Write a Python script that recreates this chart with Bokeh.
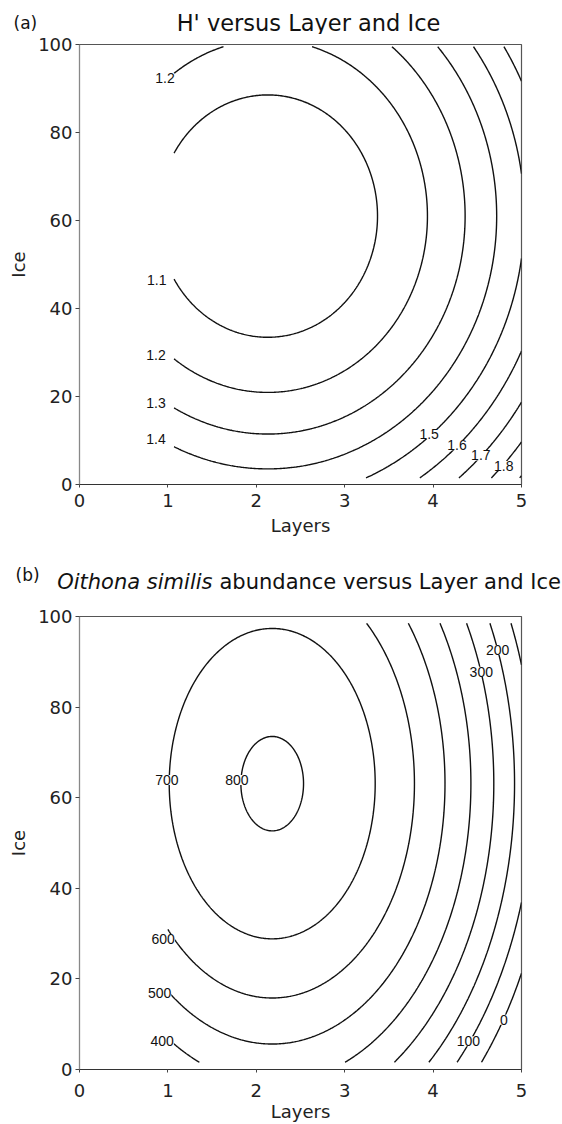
import numpy as np
from bokeh.plotting import figure
from bokeh.models import Range1d, FixedTicker, Label, LabelSet, ColumnDataSource
from bokeh.core.properties import value
from bokeh.layouts import column
from bokeh.embed import file_html
from bokeh.resources import INLINE

# ---------------- data ----------------
layer_ticks = [0, 1, 2, 3, 4, 5]
ice_ticks = [0, 20, 40, 60, 80, 100]

# (a) H' response surface (quadratic)
h_levels = [1.1, 1.2, 1.3, 1.4, 1.5, 1.6, 1.7, 1.8, 1.9]
h_layer_opt = 2.13
h_ice_opt = 61.0
h_min = 1.0105
h_curv_layer = 0.0581
h_curv_ice = 0.000118
h_layer_span = [1.07, 5.0]
h_ice_span = [1.5, 99.5]
h_label_text = ["1.2", "1.1", "1.2", "1.3", "1.4", "1.5", "1.6", "1.7", "1.8"]
h_label_layer = [0.967, 0.874, 0.866, 0.866, 0.866, 3.955, 4.27, 4.54, 4.80]
h_label_ice = [92.3, 46.5, 29.4, 18.5, 10.4, 11.5, 8.9, 6.6, 4.2]

# (b) Oithona similis abundance response surface
o_levels = [0, 100, 200, 300, 400, 500, 600, 700, 800]
o_layer_opt = 2.18
o_ice_opt = 63.1
o_max = 810.2
o_curv_layer = 81.2
o_curv_ice = 0.0939
o_layer_span = [1.0, 5.0]
o_ice_span = [1.6, 98.5]
o_domain_cut = [1.12, 90.0]   # no data in the upper-left corner (layer < 1.12, ice > 90)
o_label_text = ["700", "800", "300", "200", "600", "500", "400", "100", "0"]
o_label_layer = [0.988, 1.78, 4.545, 4.73, 0.947, 0.906, 0.935, 4.40, 4.80]
o_label_ice = [63.9, 63.9, 87.8, 92.6, 28.8, 16.9, 6.25, 6.25, 11.0]

FONT = "DejaVu Sans"
LBLFONT = "Liberation Sans"
W = 562


def surface(span_x, span_y, fn):
    xs = np.linspace(span_x[0], span_x[1], 300)
    ys = np.linspace(span_y[0], span_y[1], 300)
    X, Y = np.meshgrid(xs, ys)
    return xs, ys, X, Y, fn(X, Y)


def no_align(p):
    if "frame_align" in p.properties():
        p.frame_align = False


def header(height):
    h = figure(width=W, height=height, x_range=Range1d(0, W), y_range=Range1d(0, height),
               output_backend="svg", toolbar_location=None,
               x_axis_location=None, y_axis_location=None,
               min_border=0, min_border_left=0, min_border_right=0,
               min_border_top=0, min_border_bottom=0)
    h.grid.visible = False
    h.outline_line_color = None
    h.background_fill_color = "white"
    h.border_fill_color = "white"
    no_align(h)
    return h


def make_fig(height, bottom, tick_standoff, label_standoff):
    p = figure(width=W, height=height, x_range=Range1d(0, 5), y_range=Range1d(0, 100),
               output_backend="svg", toolbar_location=None,
               min_border_left=79, min_border_right=41,
               min_border_top=10, min_border_bottom=bottom)
    no_align(p)
    p.background_fill_color = "white"
    p.border_fill_color = "white"
    p.outline_line_color = "#555555"
    p.outline_line_width = 1.2
    p.xgrid.visible = False
    p.ygrid.visible = False
    p.xaxis.ticker = FixedTicker(ticks=layer_ticks)
    p.yaxis.ticker = FixedTicker(ticks=ice_ticks)
    p.xaxis.axis_label = "Layers"
    p.yaxis.axis_label = "Ice"
    for ax in (p.xaxis[0], p.yaxis[0]):
        ax.axis_label_text_font = FONT
        ax.axis_label_text_font_size = "18px"
        ax.axis_label_text_font_style = "normal"
        ax.axis_label_text_color = "#222222"
        ax.major_label_text_font = FONT
        ax.major_label_text_font_size = "18px"
        ax.major_label_text_color = "#222222"
        ax.minor_tick_line_color = None
        ax.major_tick_in = 0
        ax.major_tick_line_color = "#444444"
    p.xaxis.axis_line_color = "#333333"
    p.yaxis.axis_line_color = "#888888"
    p.xaxis.major_tick_out = 3
    p.xaxis.major_label_standoff = tick_standoff
    p.xaxis.axis_label_standoff = label_standoff
    p.yaxis.major_tick_out = 4
    p.yaxis.major_label_standoff = 3
    p.yaxis.axis_label_standoff = 6
    return p


def contour_labels(p, xs, ys, ts):
    p.add_layout(LabelSet(x="x", y="y", text="t",
                          source=ColumnDataSource(dict(x=xs, y=ys, t=ts)),
                          text_align="center", text_baseline="middle",
                          text_font=value(LBLFONT), text_font_size=value("14px"),
                          text_color="#111111", background_fill_color="white"))


# ---------- panel (a) ----------
ha = header(34)
ha.add_layout(Label(x=13, y=12, text="(a)", text_font=FONT, text_font_size="17px",
                    text_baseline="alphabetic", text_color="#111111"))
ha.add_layout(Label(x=308, y=12, text="H' versus Layer and Ice", text_font=FONT,
                    text_font_size="22.5px", text_align="center", text_baseline="alphabetic",
                    text_color="#111111"))

pa = make_fig(514, 64, 6, 5)
xa, ya, Xa, Ya, za = surface(h_layer_span, h_ice_span,
                             lambda X, Y: h_min + h_curv_layer * (X - h_layer_opt) ** 2
                             + h_curv_ice * (Y - h_ice_opt) ** 2)
pa.contour(xa, ya, za, h_levels, line_color="#111111", line_width=1.4)
contour_labels(pa, h_label_layer, h_label_ice, h_label_text)

# ---------- panel (b) ----------
hb = header(58)
hb.add_layout(Label(x=15, y=32, text="(b)", text_font=FONT, text_font_size="17px",
                    text_baseline="alphabetic", text_color="#111111"))
hb.add_layout(Label(x=212, y=25, text="Oithona similis", text_font=FONT,
                    text_font_size="21px", text_font_style="italic", text_align="right",
                    text_baseline="alphabetic", text_color="#111111"))
hb.add_layout(Label(x=219, y=25, text="abundance versus Layer and Ice", text_font=FONT,
                    text_font_size="21px", text_align="left", text_baseline="alphabetic",
                    text_color="#111111"))

pb = make_fig(518, 55, 11, 1)
xb, yb, Xb, Yb, zb = surface(o_layer_span, o_ice_span,
                             lambda X, Y: o_max - o_curv_layer * (X - o_layer_opt) ** 2
                             - o_curv_ice * (Y - o_ice_opt) ** 2)
zb = np.where((Xb < o_domain_cut[0]) & (Yb > o_domain_cut[1]), np.nan, zb)
pb.contour(xb, yb, zb, o_levels, line_color="#111111", line_width=1.4)
contour_labels(pb, o_label_layer, o_label_ice, o_label_text)

layout = column(ha, pa, hb, pb)
open("out.html", "w").write(file_html(layout, INLINE))
